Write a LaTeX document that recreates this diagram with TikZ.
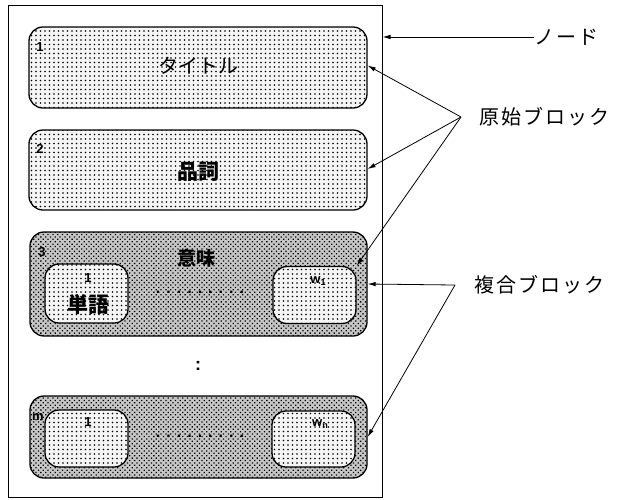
\documentclass[tikz,border=0pt]{standalone}
\usepackage{fontspec}
\setmainfont{Noto Sans CJK JP}
\newfontfamily\latsans{Liberation Sans}
\usetikzlibrary{patterns.meta,arrows.meta}
\newcommand{\dotline}{.\hspace{6pt}.\hspace{6pt}.\hspace{6pt}.\hspace{6pt}.\hspace{6pt}.\hspace{6pt}.\hspace{6pt}.\hspace{6pt}.}
\begin{document}
\begin{tikzpicture}[x=1pt,y=-1pt,
  frame/.style={draw, line width=1pt, inner sep=0pt},
  lightblock/.style={draw, line width=1.3pt, rounded corners=14pt, inner sep=0pt,
    preaction={fill=gray!8}, pattern={Dots[distance=4.5pt,radius=0.85pt]}},
  darkblock/.style={draw, line width=1.3pt, rounded corners=14pt, inner sep=0pt,
    preaction={fill=gray!45}, pattern={Dots[distance=3.4pt,angle=45,radius=0.9pt]}},
  num/.style={font=\latsans\fontsize{13}{14}\selectfont\bfseries, inner sep=0pt},
  jlabel/.style={font=\fontsize{20}{22}\selectfont, inner sep=1pt},
  jbold/.style={font=\fontsize{21}{23}\selectfont\bfseries, inner sep=1pt},
  side/.style={font=\fontsize{20}{22}\selectfont\addfontfeatures{LetterSpace=10}, inner sep=0pt, anchor=west},
  arr/.style={-{Latex[length=8pt,width=4.5pt]}, line width=0.8pt},
  dotrow/.style={font=\latsans\fontsize{16}{16}\selectfont\bfseries, inner sep=0pt}
]
\useasboundingbox (0,0) rectangle (620,499);

% outer node frame
\node[frame, minimum width=374pt, minimum height=492pt] (outer) at (195,251) {};

% primitive blocks
\node[lightblock, minimum width=338pt, minimum height=81pt] (b1) at (198,67.5) {};
\node[num] (n1) at (40,47) {1};
\node[jlabel] (t1) at (198,66) {タイトル};

\node[lightblock, minimum width=338pt, minimum height=80pt] (b2) at (198,170) {};
\node[num] (n2) at (40,149) {2};
\node[jbold] (t2) at (198,172) {品詞};

% composite block 3
\node[darkblock, minimum width=337pt, minimum height=104pt] (b3) at (198.5,284) {};
\node[num] (n3) at (42,252) {3};
\node[jbold, font=\fontsize{19}{21}\selectfont\bfseries] (t3) at (196,258) {意味};
\node[lightblock, minimum width=83pt, minimum height=59pt] (i3a) at (86.5,293.5) {};
\node[num] (n3a) at (88,278) {1};
\node[jbold] (t3a) at (88,304) {単語};
\node[lightblock, minimum width=83pt, minimum height=57pt] (i3b) at (314.5,295) {};
\node[num] (n3b) at (318,281) {w\raisebox{-2pt}{\fontsize{9}{9}\selectfont 1}};
\node[dotrow] (d3) at (200,292) {\dotline};

% vertical ellipsis
\node[font=\latsans\fontsize{18}{18}\selectfont\bfseries, inner sep=0pt] (vd) at (198,366) {:};

% composite block m
\node[darkblock, minimum width=337pt, minimum height=82pt] (bm) at (198.5,437) {};
\node[num] (nm) at (38,417) {m};
\node[lightblock, minimum width=83pt, minimum height=57pt] (ima) at (86.5,438.5) {};
\node[num] (nma) at (88,422) {1};
\node[lightblock, minimum width=83pt, minimum height=56pt] (imb) at (313.5,439) {};
\node[num] (nmb) at (320,424) {w\raisebox{-2pt}{\fontsize{9}{9}\selectfont n}};
\node[dotrow] (dm) at (200,436) {\dotline};

% side labels
\node[side] (lnode) at (534,37) {ノード};
\node[side] (lprim) at (479,117) {原始ブロック};
\node[side] (lcomp) at (474,285) {複合ブロック};

\coordinate (cnode) at (525,37);
\coordinate (cprim) at (461,117);
\coordinate (ccomp) at (455,285);

\draw[line width=0.8pt] (lnode.west) -- (cnode);
\draw[arr] (cnode) -- (outer.east |- cnode);
\draw[arr] (cprim) -- ([yshift=2pt]b1.east);
\draw[arr] (cprim) -- ([yshift=1pt]b2.east);
\draw[arr] (cprim) -- (i3b.north east);
\draw[arr] (ccomp) -- (b3.east);
\draw[arr] (ccomp) -- (bm.east);
\end{tikzpicture}
\end{document}
